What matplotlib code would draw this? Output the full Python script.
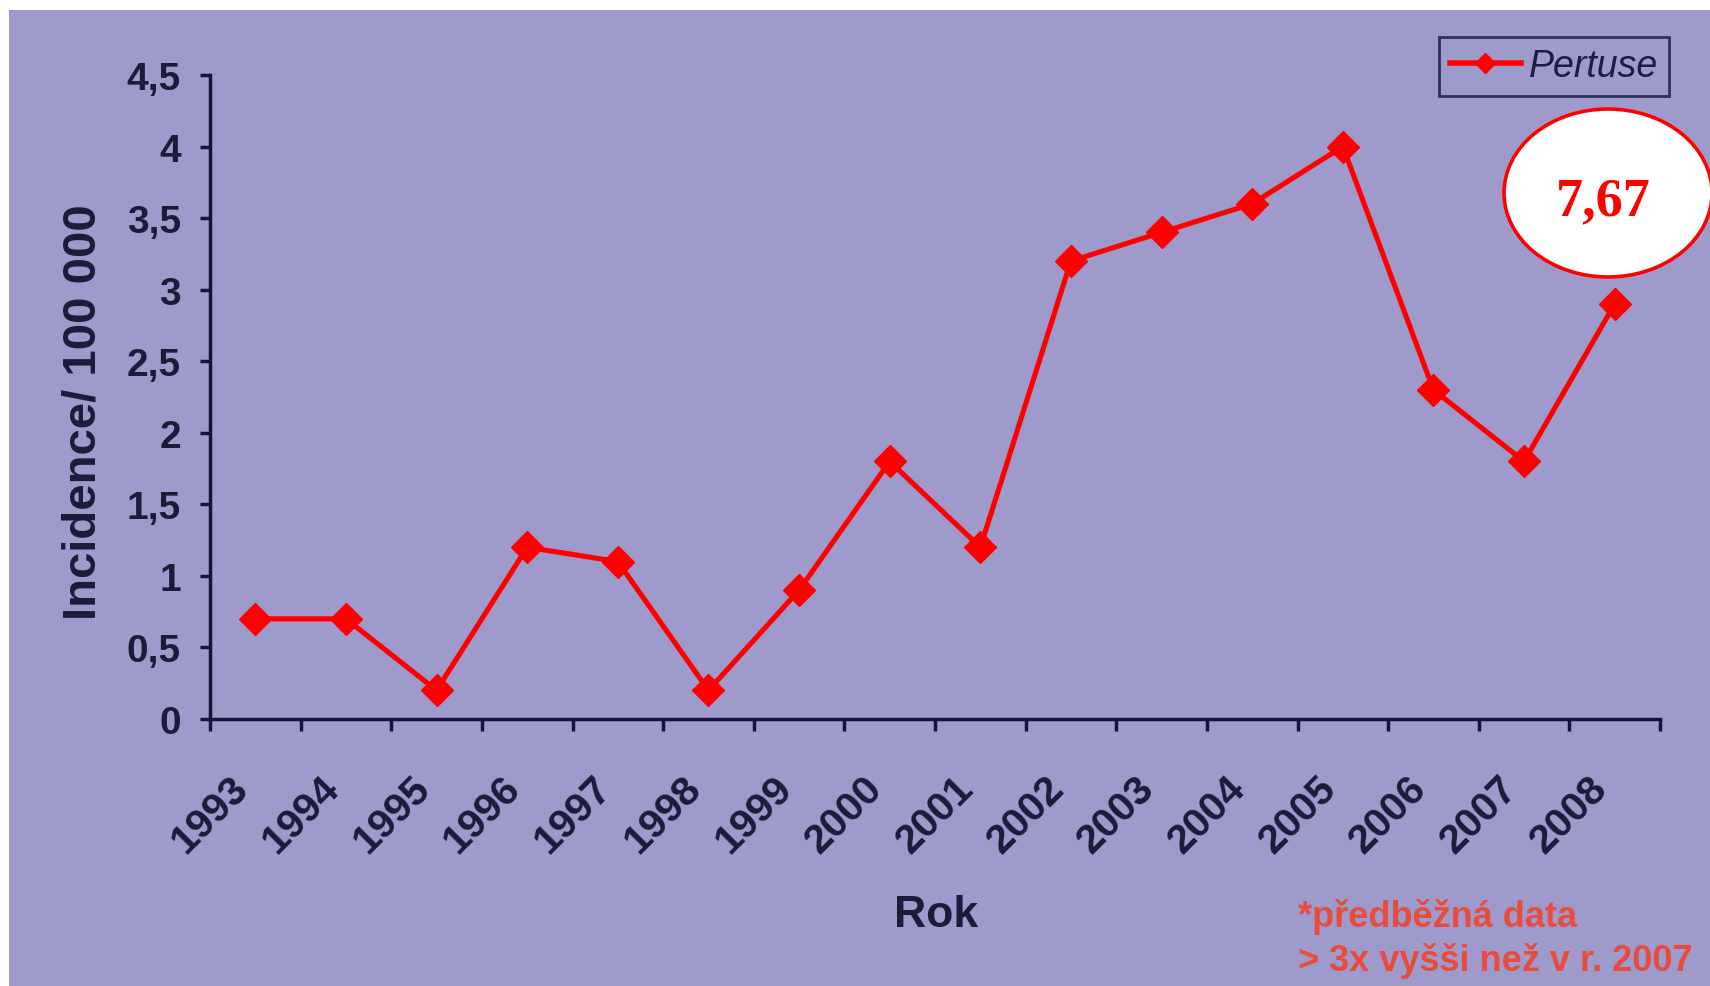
import numpy as np
import matplotlib
matplotlib.use("Agg")
import matplotlib.pyplot as plt
import matplotlib.transforms as mtransforms
from matplotlib.patches import Ellipse, Rectangle
from matplotlib.lines import Line2D
from matplotlib.font_manager import FontProperties

# --- data -------------------------------------------------------------
years = ["1993", "1994", "1995", "1996", "1997", "1998", "1999", "2000",
         "2001", "2002", "2003", "2004", "2005", "2006", "2007", "2008"]
incidence = [0.7, 0.7, 0.2, 1.2, 1.1, 0.2, 0.9, 1.8,
             1.2, 3.2, 3.4, 3.6, 4.0, 2.3, 1.8, 2.9]
y_ticks = [0, 0.5, 1, 1.5, 2, 2.5, 3, 3.5, 4, 4.5]
y_tick_labels = ["0", "0,5", "1", "1,5", "2", "2,5", "3", "3,5", "4", "4,5"]
series_name = "Pertuse"
callout_value = "7,67"
x_title = "Rok"
y_title = "Incidence/ 100 000"
footnote_lines = ["*předběžná data", "> 3x vyšši než v r. 2007"]

# --- styling ----------------------------------------------------------
W, H = 1710, 987
BG = "#9E9BCC"
RED = "#FF0000"
INK = "#1b1b3a"
NOTE = "#E94B3C"
SANS = "Liberation Sans"

fig = plt.figure(figsize=(W / 100, H / 100), dpi=100, facecolor="white")
fig.patches.append(Rectangle((9 / W, 0), 1 - 9 / W, 1 - 11 / H,
                             transform=fig.transFigure, facecolor=BG,
                             edgecolor="none", zorder=-10))

ax = fig.add_axes([210 / W, 1 - 720 / H, (1660 - 210) / W, (720 - 76) / H])
ax.patch.set_alpha(0)

x = np.arange(len(years))
ax.plot(x, incidence, color=RED, lw=3.7, marker="D", ms=16.5,
        mec=RED, mfc=RED, clip_on=False, zorder=3)

ax.set_xlim(-0.5, len(years) - 0.5)
ax.set_ylim(0, 4.5)

for side in ("top", "right"):
    ax.spines[side].set_visible(False)
for side in ("left", "bottom"):
    ax.spines[side].set_color("#14143a")
    ax.spines[side].set_linewidth(2.5)

# y axis
ax.set_yticks(y_ticks)
ax.set_yticklabels(y_tick_labels, fontfamily=SANS, fontweight="bold",
                   fontsize=28, color=INK)
ax.tick_params(axis="y", direction="out", length=7, width=2.5,
               color="#14143a", pad=14)

# x axis: tick marks between categories, labels at category centres
ax.set_xticks(x)
ax.set_xticklabels(years, fontfamily=SANS, fontweight="bold", fontsize=29.5,
                   color=INK, rotation=45, ha="right", va="center",
                   rotation_mode="anchor")
ax.tick_params(axis="x", which="major", length=0, pad=45)
shift = mtransforms.ScaledTranslation(-13 / 100, 0, fig.dpi_scale_trans)
for lbl in ax.get_xticklabels():
    lbl.set_transform(lbl.get_transform() + shift)
ax.set_xticks(np.arange(-0.5, len(years), 1), minor=True)
ax.tick_params(axis="x", which="minor", direction="out", length=8.5,
               width=2.5, color="#14143a")

# axis titles
fig.text(936 / W, 1 - 927 / H, x_title, ha="center", va="baseline",
         fontfamily=SANS, fontweight="bold", fontsize=32, color=INK)
fig.text(83 / W, 1 - 412 / H, y_title, rotation=90, ha="center",
         va="center", fontfamily=SANS, fontweight="bold", fontsize=34,
         color=INK)

# legend
handle = Line2D([], [], color=RED, lw=4, marker="D", ms=10, mec=RED, mfc=RED)
leg = ax.legend([handle], [series_name], loc="upper right",
                bbox_to_anchor=(1669 / W, 1 - 38 / H),
                bbox_transform=fig.transFigure, frameon=True, fancybox=False,
                edgecolor="#14143a", facecolor="none",
                prop=FontProperties(family=SANS, style="italic", size=27),
                labelcolor="#1c1c44", handlelength=1.9, handletextpad=0.2,
                borderpad=0.3, borderaxespad=0)
leg.get_frame().set_linewidth(2)

# callout with the 2008 value
callout = Ellipse((1608 / W, 1 - 194 / H), 208 / W, 168 / H,
                  transform=fig.transFigure, facecolor="white",
                  edgecolor=RED, linewidth=2.6, zorder=5)
fig.add_artist(callout)
fig.text(1603 / W, 1 - 215 / H, callout_value, ha="center", va="baseline",
         fontfamily="Liberation Serif", fontweight="bold", fontsize=39,
         color=RED, zorder=6)

# footnote
for i, line in enumerate(footnote_lines):
    fig.text(1298 / W, 1 - (927 + 44 * i) / H, line, ha="left",
             va="baseline", fontfamily=SANS, fontweight="bold",
             fontsize=26, color=NOTE)

fig.savefig("out.png", dpi=100, facecolor=fig.get_facecolor())
